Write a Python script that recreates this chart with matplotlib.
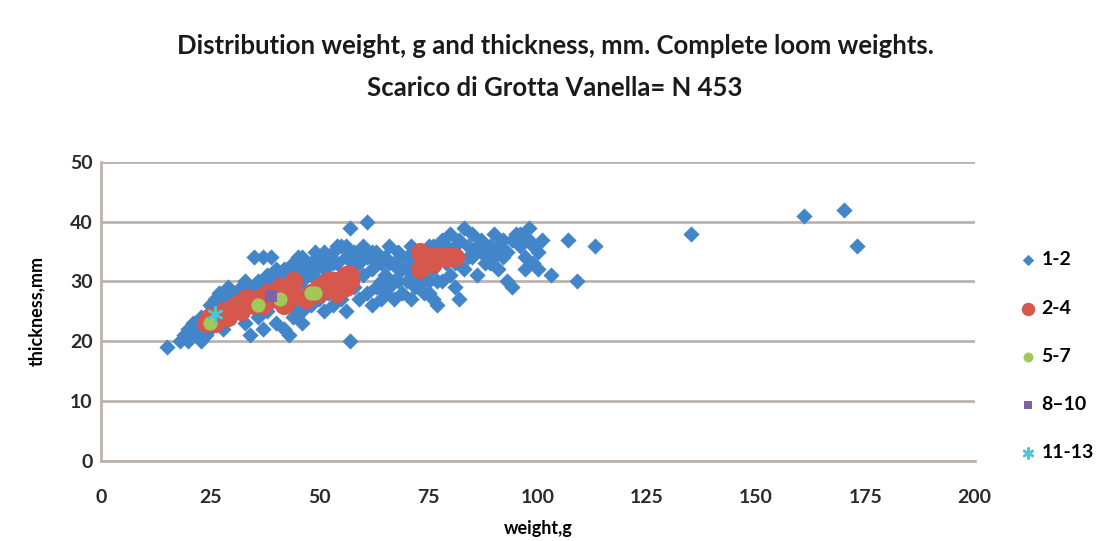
import matplotlib
matplotlib.use("Agg")
import matplotlib.pyplot as plt

plt.rcParams['font.family'] = ['Lato', 'DejaVu Sans']

# weight (g) / thickness (mm) per group
blue_x = [15, 18, 19, 20, 20, 21, 22, 22, 23, 23, 24, 24, 25, 26, 26, 27, 27, 28, 28, 29,
          30, 30, 31, 32, 32, 33, 33, 34, 34, 35, 35, 36, 36, 37, 37, 38, 38, 39, 39, 40,
          40, 41, 41, 42, 42, 43, 43, 44, 44, 45, 45, 45, 46, 46, 47, 47, 48, 48, 49, 49,
          50, 50, 50, 51, 51, 52, 52, 52, 53, 53, 54, 54, 55, 55, 55, 56, 56, 57, 57, 57,
          58, 58, 59, 59, 60, 60, 61, 61, 61, 62, 62, 63, 63, 64, 64, 65, 65, 66, 66, 67,
          67, 68, 68, 69, 69, 70, 70, 71, 71, 72, 72, 73, 73, 74, 74, 75, 75, 76, 76, 77,
          77, 78, 78, 79, 80, 80, 81, 81, 82, 82, 83, 83, 84, 85, 85, 86, 87, 88, 88, 89,
          90, 90, 91, 92, 93, 93, 94, 95, 96, 97, 98, 98, 99, 100, 100, 101, 103, 107, 109, 113,
          135, 161, 170, 173,
          21, 23, 25, 27, 29, 31, 33, 34, 36, 38, 40, 42, 44, 46, 47, 48, 49, 50, 51, 53,
          54, 56, 58, 59, 60, 62, 63, 64, 65, 66, 67, 68, 69, 70, 71, 72, 73, 74, 75, 76,
          77, 79, 80, 81, 82, 84, 86, 87, 89, 91, 92, 94, 96, 97, 99, 44, 46, 37, 30, 58]
blue_y = [19, 20, 21, 22, 20, 23, 21, 22, 20, 22, 21, 23, 22, 24, 27, 25, 28, 22, 26, 27,
          28, 25, 26, 27, 29, 23, 28, 21, 26, 34, 29, 28, 24, 27, 34, 29, 25, 34, 30, 23,
          28, 31, 26, 22, 30, 21, 29, 31, 26, 34, 32, 27, 30, 25, 33, 28, 31, 26, 32, 29,
          33, 27, 30, 32, 25, 34, 28, 31, 35, 26, 33, 29, 36, 31, 27, 34, 25, 39, 20, 32,
          35, 29, 33, 27, 36, 31, 40, 34, 28, 32, 26, 35, 29, 33, 27, 34, 31, 36, 29, 33,
          27, 35, 30, 32, 28, 34, 30, 36, 27, 33, 29, 35, 31, 28, 34, 36, 30, 32, 27, 35,
          26, 30, 37, 33, 38, 31, 36, 29, 34, 27, 39, 32, 36, 38, 34, 31, 37, 35, 33, 36,
          38, 34, 32, 37, 30, 35, 29, 38, 36, 34, 39, 37, 33, 35, 32, 37, 31, 37, 30, 36,
          38, 41, 42, 36,
          21, 24, 26, 23, 29, 28, 30, 29, 30, 31, 32, 32, 33, 34, 31, 33, 35, 34, 35, 33,
          36, 36, 33, 35, 34, 35, 33, 30, 28, 33, 30, 32, 34, 32, 30, 31, 33, 30, 28, 36,
          30, 36, 35, 33, 37, 34, 36, 35, 33, 36, 34, 37, 38, 32, 36, 24, 23, 22, 27, 31]

red_x = [24, 25, 26, 27, 28, 29, 30, 31, 32, 33, 34, 35, 36, 37, 38, 39, 40, 41, 42, 43,
         44, 43, 42, 44, 47, 48, 49, 50, 51, 52, 53, 54, 55, 56, 57, 56, 54, 52, 57,
         73, 73, 74, 75, 76, 77, 78, 79, 80, 81, 74, 76, 29, 33, 37, 41, 50, 55]
red_y = [23, 24, 23, 24, 25, 24, 25, 26, 25, 26, 27, 26, 27, 27, 28, 27, 28, 29, 28, 29,
         30, 27, 26, 28, 27, 28, 28, 28, 29, 29, 30, 29, 30, 31, 31, 29, 28, 30, 30,
         32, 35, 34, 34, 34, 34, 34, 34, 34, 34, 33, 33, 25, 27, 26, 27, 29, 29]

green_x = [25, 36, 41, 48, 49]
green_y = [23, 26, 27, 28, 28]

purple_x = [39]
purple_y = [27.5]

cyan_x = [26]
cyan_y = [24.5]

fig = plt.figure(figsize=(11.1, 5.41), dpi=100)
ax = fig.add_axes([0.091, 0.148, 0.787, 0.553])

ax.scatter(blue_x, blue_y, marker='D', s=68, color='#4285c8', label='1-2', zorder=3, linewidths=0)
ax.scatter(red_x, red_y, marker='o', s=190, color='#d6574b', label='2-4', zorder=4, linewidths=0)
ax.scatter(green_x, green_y, marker='o', s=105, color='#a3c85a', label='5-7', zorder=5, linewidths=0)
ax.scatter(purple_x, purple_y, marker='s', s=70, color='#8064a2', label='8\u201310', zorder=6, linewidths=0)
ax.scatter(cyan_x, cyan_y, marker=(6, 2, 0), s=110, color='#4bc6d6', label='11-13', zorder=7, linewidths=1.8)

ax.set_xlim(0, 200)
ax.set_ylim(0, 50)
ax.set_xticks(range(0, 201, 25))
ax.set_yticks(range(0, 51, 10))
ax.grid(axis='y', color='#bcb3ae', linewidth=2)
ax.set_axisbelow(True)
for side in ['top', 'right']:
    ax.spines[side].set_visible(False)
for side in ['left', 'bottom']:
    ax.spines[side].set_color('#bcb3ae')
    ax.spines[side].set_linewidth(2)
ax.tick_params(length=0, labelsize=14, colors='#2a2a2a')
ax.tick_params(axis='x', pad=20)
ax.tick_params(axis='y', pad=6)
for lbl in ax.get_xticklabels() + ax.get_yticklabels():
    lbl.set_fontweight('bold')

ax.set_xlabel('weight,g', fontsize=13, fontweight='bold', labelpad=10)
ax.set_ylabel('thickness,mm', fontsize=13, fontweight='bold', labelpad=18)

fig.text(0.5, 0.915, 'Distribution weight, g and thickness, mm. Complete loom weights.',
         ha='center', va='center', fontsize=18.5, fontweight='bold', color='#1a1a1a')
fig.text(0.5, 0.838, 'Scarico di Grotta Vanella= N 453',
         ha='center', va='center', fontsize=18.5, fontweight='bold', color='#1a1a1a')

leg = ax.legend(loc='center left', bbox_to_anchor=(1.03, 0.35), frameon=False,
                fontsize=14, labelspacing=1.6, handletextpad=0.2, handlelength=1.0,
                markerscale=0.7)
for t in leg.get_texts():
    t.set_fontweight('bold')

fig.savefig('out.png', dpi=100, facecolor='white')
